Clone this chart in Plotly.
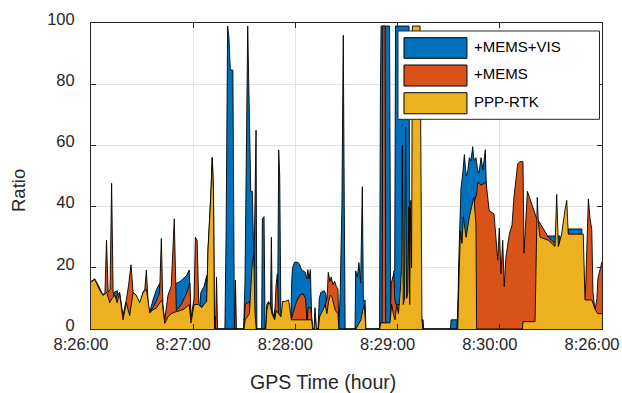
import plotly.graph_objects as go

# Time axis in seconds after 8:26:00
TICK_SECONDS = [0, 60, 120, 180, 240, 300]
TICK_LABELS = ["8:26:00", "8:27:00", "8:28:00", "8:29:00", "8:30:00", "8:26:00"]
Y_TICKS = [0, 20, 40, 60, 80, 100]

SERIES_NAMES = ["+MEMS+VIS", "+MEMS", "PPP-RTK"]

# +MEMS+VIS ratio
VIS_T = [0, 12.8, 13.5, 15.5, 16.5, 33.5, 34.5, 36.4, 38.3, 40.3, 41, 43.3, 46.5, 47.5, 49,
         50.3, 52.3, 56, 57.7, 58.5, 63.5, 64.5, 66.3, 67.9, 68.7, 72.5, 73.5, 74.1, 78.6,
         79.3, 80.2, 81, 81.8, 83.3, 84.2, 84.8, 85.4, 89.6, 90.4, 92, 93.8, 94.7, 95.7, 96.9,
         97.4, 100.2, 100.6, 101.6, 102.2, 105.3, 105.9, 106.5, 109.6, 110.2, 110.8, 111.5,
         117.2, 117.8, 118.3, 119.5, 121.5, 122.5, 123.5, 125.8, 126.7, 127.3, 128, 128.8,
         129.6, 130.2, 131, 131.5, 132.3, 133.3, 134, 135, 137, 138, 138.6, 145.5, 146.3,
         147.3, 148.1, 148.7, 149.2, 155, 155.4, 156.4, 157.3, 158.3, 159.3, 159.9, 160.9,
         161.4, 169.4, 169.9, 170.3, 175.3, 175.9, 176.8, 177.8, 178.3, 178.8, 186.7, 187.2,
         188, 193.8, 194.2, 195, 195.3, 211, 211.4, 215.3, 215.8, 217.2, 218.1, 219.2, 220.2,
         221.3, 222.1, 223.1, 224.1, 224.8, 226, 227, 227.8, 229, 230.1, 231.5, 232.1, 232.5,
         263, 264, 268.5, 275.3, 276, 279.6, 280.2, 288.2, 289, 300]
VIS_V = [0, 5, 12, 12.5, 2, 2, 5.5, 9.5, 12.7, 14.9, 3, 1, 3, 13.5, 14.5,
         15, 15.5, 17.4, 19.3, 3, 5, 12, 13.8, 17.4, 10, 4, 4, 0, 0,
         30, 99, 95, 84.6, 84.6, 0, 16, 0, 0, 15, 99, 45, 45, 20, 65,
         0, 0, 36, 36.7, 0, 5, 30, 3, 10, 58.5, 50, 3,
         0, 15, 20, 21.8, 21.8, 21, 19.5, 18.5, 16.4, 19.4, 16.4, 19.4,
         3, 0, 0, 7, 0, 0, 10, 12, 12.5, 11, 5, 0, 12,
         40, 96, 40, 0, 0, 19, 17, 21.7, 15, 46.5, 9, 9.5,
         0, 0, 77, 99, 99, 8, 12, 19, 19, 99, 99, 10,
         5, 5, 3, 3, 0, 0, 3, 3, 20, 46, 50, 57, 50,
         52, 56, 55, 59.6, 55, 56, 52, 51, 56, 52, 58.6, 47, 10,
         10, 28, 30.4, 30.4, 25, 25, 32.7, 32.7, 5, 3]

# +MEMS ratio
MEMS_T = [0, 2.2, 5.1, 7, 8.2, 9.1, 10.1, 11.2, 12.1, 13, 14.1, 15.3, 16.8, 18.8, 20.7, 22,
          23.5, 24.7, 26.6, 28.6, 30.5, 31.6, 32.5, 33.6, 34.5, 36.4, 38.3, 40.3, 41.3, 42.2,
          43.3, 45.2, 47.1, 48.9, 50.1, 53, 56, 58.1, 58.7, 60.5, 61.3, 62.3, 63.3, 65, 66.3,
          67.9, 68.7, 70.3, 71.2, 71.9, 72.5, 73.1, 73.7, 74.3, 89.8, 90.5, 93, 94, 96, 102.6,
          103.2, 104.2, 105.2, 107.8, 108.6, 109.4, 110.1, 111.5, 117.6, 118.5, 120.7, 122.5,
          124.5, 126, 126.8, 127.5, 129, 130.2, 136.8, 137.5, 138.6, 139.3, 140.3, 141, 142,
          143, 144, 145, 145.5, 170.9, 171.3, 172.6, 173, 175.5, 176.3, 177.2, 177.8, 178.3,
          179, 186, 187, 214.8, 216, 220, 224, 226.4, 227, 229, 231.9, 233.8, 236.6, 238.8,
          239.7, 240.7, 241.7, 242.6, 243.6, 245.6, 247.2, 248.3, 250.5, 251.9, 253.6, 254.2,
          256.2, 261.7, 263.6, 268.5, 272.4, 288.9, 289.6, 290.3, 292, 293, 294, 294.7, 295.9,
          297, 297.6, 300]
MEMS_V = [15.5, 16.4, 13.4, 11, 12, 29, 12, 13, 47.6, 12, 9, 11, 12, 4.4, 9.5, 14,
          21, 12, 11, 6, 12, 13, 19.3, 8, 5.3, 7, 9, 12, 29.6, 8,
          3, 11, 14, 36, 6, 8, 11.5, 15, 3.7, 10, 30, 29, 8, 7, 8,
          9, 26, 43, 56, 45, 0, 0, 17, 0, 0, 8, 9, 5, 0, 0,
          8, 9, 8, 3, 14, 18, 5, 3, 3, 5, 9, 11,
          11.5, 10, 2, 7, 7, 0, 0, 8, 10, 18.5, 15.5, 17, 14.5,
          15.6, 14, 13, 0, 0, 99, 99, 0, 0, 15, 17, 18, 10,
          8, 8, 0, 0, 15, 28, 40, 44, 48, 47, 48, 38.6, 37.6, 22.5,
          33, 18, 29, 13.8, 23.6, 31, 34, 43, 54, 54.7, 54.7, 24.8,
          45, 36, 34.6, 30, 28, 29, 9, 12, 42.5, 36, 32.5, 12, 6,
          10, 16.5, 22]

# PPP-RTK ratio
PPP_T = [0, 2.2, 5.1, 7, 8.3, 9.2, 11, 12.3, 14.1, 15.3, 16.8, 18.8, 20.7, 22.7, 24.7, 26.6,
         28.6, 30.5, 32.5, 34.5, 36.4, 38.3, 40.3, 41.7, 43.3, 45.2, 47.1, 49.1, 51.1, 54.6,
         57.7, 58.7, 60.5, 63, 65, 66.3, 67.9, 68.7, 70.3, 71.2, 71.9, 72.5, 89.8, 90.5, 93,
         94.5, 95.5, 96.3, 97, 102.6, 103.2, 104.2, 105.2, 106.2, 107.8, 108.8, 110.2, 111.5,
         112.5, 114, 116, 117.2, 117.6, 129.5, 130.2, 131, 131.5, 132.3, 133.5, 134.2, 136,
         137.5, 138.5, 139.5, 140.5, 141.5, 142.5, 143.5, 145, 145.5, 155.5, 157, 158.5,
         159.5, 160.5, 161.3, 169.5, 170, 175.5, 176.5, 177.5, 178.5, 179.5, 180.5, 181.5,
         182.3, 182.8, 183.3, 184.1, 184.7, 185.3, 186, 186.6, 187.1, 187.7, 188.2, 188.7,
         193.2, 193.8, 194.3, 194.8, 215.3, 216.2, 216.9, 217.8, 218.6, 220.2, 222.1, 224.1,
         224.8, 226, 226.4, 253.3, 253.6, 260.7, 262, 262.6, 263.6, 268.5, 272.4, 273.4,
         274.4, 276.3, 278.3, 279.3, 280.2, 289, 290, 294, 295.9, 297.5, 300]
PPP_V = [15.4, 16.2, 12.7, 11, 11.5, 12, 8.6, 10, 11, 8.6, 11.5, 3, 8.6, 4.4, 11.9, 11,
         8.6, 11.9, 13, 5.3, 6.3, 6.8, 8.5, 9.5, 1.8, 4, 5, 5.5, 5.8, 6.5,
         8, 2, 8, 8, 7, 8, 9, 26, 43, 56, 45, 0, 0, 3, 5,
         20, 25, 5, 0, 0, 6, 8.5, 8, 5, 3, 6, 5, 4,
         9, 9, 9.5, 5, 3, 3, 0, 0, 5, 0, 0, 4, 6,
         8, 5, 9, 11, 10.5, 8, 6, 5, 0, 0, 1.5, 3,
         6, 8, 0, 0, 2, 2, 8, 5, 3, 8, 5, 12,
         20, 60, 8, 10, 66, 10, 12, 40, 8, 42, 20, 99,
         99, 45, 3, 0, 0, 20, 32, 28, 36.7, 30, 36.6, 41.6,
         43, 34, 0, 0, 2.4, 2.4, 43, 35, 30, 29, 27, 44,
         27, 31, 39, 42, 31, 31, 9.5, 9.5, 6.5, 5, 5]

COLORS = ["#0072BD", "#D95319", "#EDB120"]
FONT = "Liberation Sans, Arial, Helvetica, sans-serif"
INK = "#262626"

fig = go.Figure()
for name, t, v, color in zip(SERIES_NAMES,
                             [VIS_T, MEMS_T, PPP_T],
                             [VIS_V, MEMS_V, PPP_V],
                             COLORS):
    fig.add_trace(go.Scatter(
        x=t, y=v, name=name, mode="lines", fill="tozeroy",
        fillcolor=color, line=dict(color="black", width=0.9, simplify=False),
        showlegend=False, hoverinfo="skip",
    ))

# Legend drawn as a boxed key with wide swatches
L_X0, L_X1, L_Y0, L_Y1 = 0.6008, 0.9951, 0.6853, 0.9739
SW_X0, SW_X1 = 0.6125, 0.7357
ROWS = [(0.8846, 0.9520), (0.7941, 0.8627), (0.7033, 0.7722)]
shapes = [dict(type="rect", xref="paper", yref="paper", x0=L_X0, x1=L_X1, y0=L_Y0, y1=L_Y1,
               fillcolor="white", line=dict(color=INK, width=1), layer="above")]
annotations = []
for (y0, y1), color, name in zip(ROWS, COLORS, SERIES_NAMES):
    shapes.append(dict(type="rect", xref="paper", yref="paper", x0=SW_X0, x1=SW_X1,
                       y0=y0, y1=y1, fillcolor=color, line=dict(color="black", width=1),
                       layer="above"))
    annotations.append(dict(xref="paper", yref="paper", x=0.7449, y=(y0 + y1) / 2 + 0.006,
                            text=name, showarrow=False, xanchor="left", yanchor="middle",
                            font=dict(family=FONT, size=15, color="black")))

annotations.append(dict(xref="paper", yref="paper", x=0.4536, y=-0.173, text="GPS Time (hour)",
                        showarrow=False, xanchor="center", yanchor="middle",
                        font=dict(family=FONT, size=19.5, color=INK)))
annotations.append(dict(xref="paper", yref="paper", x=-0.143, y=0.454, text="Ratio",
                        textangle=-90, showarrow=False, xanchor="center", yanchor="middle",
                        font=dict(family=FONT, size=18.5, color=INK)))

axis_common = dict(showline=True, linecolor=INK, linewidth=1, mirror="ticks",
                   ticks="inside", ticklen=5, tickwidth=1, tickcolor=INK,
                   showgrid=True, gridcolor="#e3e3e3", gridwidth=1, zeroline=False,
                   automargin=False,
                   tickfont=dict(family=FONT, size=16.5, color=INK))

fig.update_layout(
    width=622, height=393,
    margin=dict(l=91, r=19.5, t=23, b=64, autoexpand=False),
    paper_bgcolor="white", plot_bgcolor="white",
    shapes=shapes, annotations=annotations,
    xaxis=dict(range=[0, 300], tickvals=TICK_SECONDS, ticktext=TICK_LABELS,
               ticklabelstandoff=0, ticklabelshift=-10, ticklabeloverflow="allow",
               **axis_common),
    yaxis=dict(range=[0, 100], tickvals=Y_TICKS, ticklabelstandoff=12, ticklabelshift=-4,
               ticklabeloverflow="allow", **axis_common),
    showlegend=False,
)

fig.write_html("out.html")
